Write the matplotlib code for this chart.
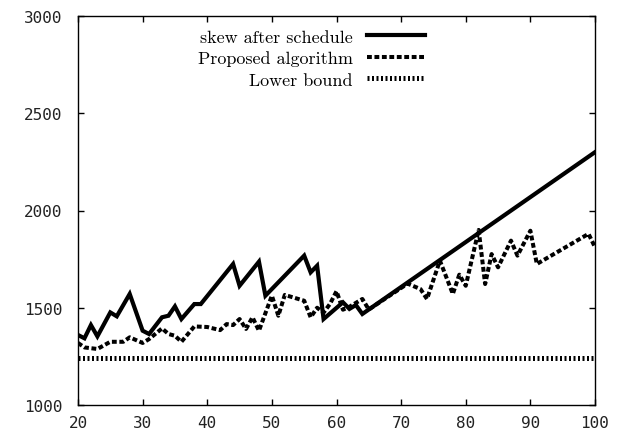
import numpy as np
import matplotlib
matplotlib.use("Agg")
from matplotlib import pyplot as plt

# skew after schedule (solid)
skewX = [20, 21, 22, 23, 25, 26, 28, 30, 31, 33, 34, 35, 36, 38, 39, 44, 45, 48, 49,
         55, 56, 57, 58, 61, 62, 63, 64, 100]
skewY = [1360, 1343, 1411, 1353, 1476, 1456, 1571, 1382, 1365, 1451, 1459, 1507, 1442,
         1519, 1519, 1725, 1613, 1737, 1562, 1768, 1682, 1716, 1442, 1528, 1494, 1514,
         1468, 2300]

# proposed algorithm (dashed)
propX = [20, 21, 23, 25, 27, 28, 30, 31, 33, 34, 35, 36, 38, 40, 42, 43, 44, 45, 46,
         47, 48, 50, 51, 52, 55, 56, 57, 58, 59, 60, 61, 62, 63, 64, 65, 71, 73, 74,
         76, 78, 79, 80, 82, 83, 84, 85, 87, 88, 90, 91, 99, 100]
propY = [1319, 1296, 1288, 1325, 1325, 1348, 1319, 1339, 1394, 1365, 1356, 1325, 1404,
         1401, 1385, 1416, 1411, 1442, 1391, 1451, 1382, 1562, 1459, 1566, 1536, 1451,
         1500, 1475, 1520, 1585, 1490, 1505, 1525, 1545, 1491, 1624, 1596, 1545, 1742,
         1571, 1670, 1613, 1900, 1622, 1776, 1708, 1845, 1768, 1896, 1725, 1880, 1811]

# lower bound (dotted)
lowX = [20, 100]
lowY = [1240, 1240]

xTicks = [20, 30, 40, 50, 60, 70, 80, 90, 100]
yTicks = [1000, 1500, 2000, 2500, 3000]

fig = plt.figure(figsize=(6.21, 4.39), dpi=100)
ax = fig.add_axes([78 / 621, 33 / 439, 517 / 621, 389 / 439])

ax.plot(skewX, skewY, color="black", linewidth=3.0, solid_joinstyle="miter",
        label="skew after schedule")
ax.plot(propX, propY, color="black", linewidth=2.9, linestyle=(0, (1.2, 0.65)),
        label="Proposed algorithm")
ax.plot(lowX, lowY, color="black", linewidth=3.6, linestyle=(0, (0.4, 0.5)),
        label="Lower bound")

ax.set_xlim(20, 100)
ax.set_ylim(1000, 3000)
ax.set_xticks(xTicks)
ax.set_yticks(yTicks)
ax.tick_params(direction="in", length=4.5, width=1, top=True, right=True,
               labelsize=11.5)
ax.tick_params(axis="y", pad=11)
ax.tick_params(axis="x", pad=7)
for lab in ax.get_xticklabels() + ax.get_yticklabels():
    lab.set_family("DejaVu Sans Mono")
    lab.set_color("#222222")
for s in ax.spines.values():
    s.set_linewidth(1.0)

ax.legend(loc="upper right", bbox_to_anchor=(0.685, 0.985), frameon=False,
          markerfirst=False, handlelength=3.2, handletextpad=0.8,
          labelspacing=0.32, borderaxespad=0,
          prop={"family": "cmr10", "size": 13})

fig.savefig("out.png", dpi=100)
